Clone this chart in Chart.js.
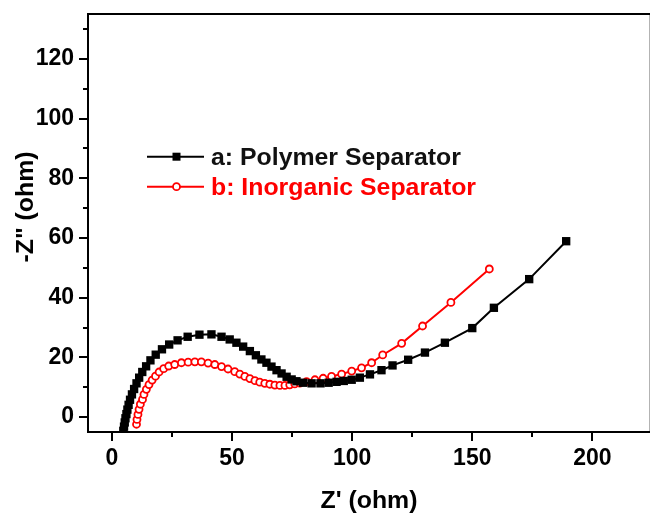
<!DOCTYPE html>
<html>
<head>
<meta charset="utf-8">
<script src="https://cdn.jsdelivr.net/npm/chart.js@4.4.0/dist/chart.umd.min.js"></script>
<style>
  html, body { margin: 0; padding: 0; background: #fff; overflow: hidden; }
  canvas { display: block; }
</style>
</head>
<body>
<canvas id="nyquist" width="650" height="513"></canvas>
<script>
// Nyquist plot data: Z' (ohm) vs -Z'' (ohm)
const polymerZre = [4.7, 5.0, 5.3, 5.6, 6.0, 6.4, 6.9, 7.5, 8.3, 9.2, 10.2, 11.3, 12.6, 14.2, 16.0, 18.2, 20.8, 23.8, 27.3, 31.5,
  36.4, 41.4, 45.6, 49.0, 51.8, 54.6, 57.4, 59.9, 62.2, 64.3, 66.4, 68.5, 70.6, 72.7, 74.8, 76.8, 79.6, 83.1, 86.8, 90.2,
  93.5, 96.5, 99.8, 103.2, 107.4, 112.2, 116.8, 123.3, 130.3, 138.6, 150.0, 159.0, 173.7, 189.1];
const polymerZim = [-4.6, -3.2, -1.8, -0.4, 1.0, 2.5, 4.1, 5.8, 7.6, 9.4, 11.3, 13.2, 15.1, 17.0, 19.0, 20.9, 22.7, 24.3, 25.7, 26.9,
  27.6, 27.7, 26.9, 26.0, 24.9, 23.6, 22.1, 20.7, 19.3, 18.2, 16.9, 15.7, 14.6, 13.5, 12.6, 12.0, 11.5, 11.3, 11.3, 11.5,
  11.8, 12.1, 12.5, 13.2, 14.3, 15.7, 17.3, 19.2, 21.6, 24.9, 29.8, 36.6, 46.2, 58.9];

const inorganicZre = [10.2, 10.4, 10.8, 11.25, 11.8, 12.7, 13.3, 14.3, 15.4, 16.7, 18.1, 19.6, 21.5, 23.6, 26.1, 28.9, 31.7, 34.5, 37.2, 40.0,
  42.8, 45.6, 48.3, 51.1, 53.2, 55.3, 57.4, 59.5, 61.5, 63.6, 65.7, 67.8, 69.9, 72.0, 74.0, 76.1, 78.2, 81.0, 84.5, 87.9,
  91.4, 95.6, 99.8, 103.9, 108.1, 112.7, 120.6, 129.3, 141.1, 157.1];
const inorganicZim = [-2.4, -0.8, 0.9, 2.6, 4.3, 5.9, 7.6, 9.3, 10.9, 12.4, 13.7, 15.1, 16.2, 17.1, 17.6, 18.2, 18.4, 18.5, 18.5, 18.1,
  17.6, 16.9, 16.1, 15.2, 14.4, 13.6, 12.9, 12.2, 11.7, 11.3, 11.0, 10.7, 10.6, 10.6, 10.8, 11.1, 11.4, 11.9, 12.5, 13.0,
  13.6, 14.4, 15.4, 16.5, 18.2, 20.8, 24.7, 30.5, 38.4, 49.6];

const seriesLabels = ['a: Polymer Separator', 'b: Inorganic Separator'];
const xTickValues = [0, 50, 100, 150, 200];
const yTickValues = [0, 20, 40, 60, 80, 100, 120];
const xTitle = "Z' (ohm)";
const yTitle = '-Z" (ohm)';

const FONT = '"Liberation Sans", Arial, sans-serif';

const toPoints = (xs, ys) => xs.map((x, i) => ({ x: x, y: ys[i] }));

// draws the frame, outward ticks (major + minor), axis titles and the inset legend
const decorations = {
  id: 'decorations',
  afterDraw(chart) {
    const { ctx, chartArea: area, scales: { x, y } } = chart;
    ctx.save();
    ctx.strokeStyle = '#000';
    ctx.lineWidth = 2;
    // right side of the frame sits just past the picture edge, as in the original crop
    ctx.strokeRect(area.left, area.top, area.right + 0.7 - area.left, area.bottom - area.top);

    ctx.beginPath();
    for (let v = 0; v <= 130; v += 10) {
      const py = Math.round(y.getPixelForValue(v));
      const len = v % 20 === 0 ? 9 : 5;
      ctx.moveTo(area.left - len, py);
      ctx.lineTo(area.left, py);
    }
    for (let v = 0; v <= 224; v += 25) {
      const px = Math.round(x.getPixelForValue(v));
      const len = v % 50 === 0 ? 9 : 5;
      ctx.moveTo(px, area.bottom);
      ctx.lineTo(px, area.bottom + len);
    }
    ctx.stroke();

    // axis titles
    ctx.fillStyle = '#000';
    ctx.font = 'bold 23px ' + FONT;
    ctx.textAlign = 'center';
    ctx.textBaseline = 'alphabetic';
    ctx.save();
    ctx.translate((area.left + area.right) / 2, 508);
    ctx.scale(1.08, 1);
    ctx.fillText(xTitle, 0, 0);
    ctx.restore();

    ctx.save();
    ctx.translate(33, 207);
    ctx.rotate(-Math.PI / 2);
    ctx.scale(1.08, 1);
    ctx.fillText(yTitle, 0, 0);
    ctx.restore();

    // legend
    const rows = [156.7, 186.7];
    chart.data.datasets.forEach((ds, i) => {
      const ly = rows[i];
      ctx.strokeStyle = ds.borderColor;
      ctx.lineWidth = 2;
      ctx.beginPath();
      ctx.moveTo(147, ly);
      ctx.lineTo(204, ly);
      ctx.stroke();
      if (ds.pointStyle === 'rect') {
        ctx.fillStyle = ds.pointBackgroundColor;
        ctx.fillRect(176.5 - 4, ly - 4, 8, 8);
      } else {
        ctx.beginPath();
        ctx.arc(176.5, ly, ds.pointRadius, 0, Math.PI * 2);
        ctx.fillStyle = ds.pointBackgroundColor;
        ctx.fill();
        ctx.lineWidth = ds.pointBorderWidth;
        ctx.strokeStyle = ds.pointBorderColor;
        ctx.stroke();
      }
      ctx.save();
      ctx.translate(211, ly + 8.3);
      ctx.scale(1.08, 1);
      ctx.font = 'bold 23px ' + FONT;
      ctx.textAlign = 'left';
      ctx.fillStyle = ds.borderColor === '#000000' ? '#111' : ds.borderColor;
      ctx.fillText(ds.label, 0, 0);
      ctx.restore();
    });
    ctx.restore();
  }
};

const ctx = document.getElementById('nyquist').getContext('2d');

new Chart(ctx, {
  type: 'line',
  data: {
    datasets: [
      {
        label: seriesLabels[0],
        data: toPoints(polymerZre, polymerZim),
        borderColor: '#000000',
        borderWidth: 2,
        pointStyle: 'rect',
        pointRadius: 5.9,
        pointBackgroundColor: '#000000',
        pointBorderWidth: 0,
        tension: 0
      },
      {
        label: seriesLabels[1],
        data: toPoints(inorganicZre, inorganicZim),
        borderColor: '#ff0000',
        borderWidth: 2,
        pointStyle: 'circle',
        pointRadius: 3.5,
        pointBackgroundColor: '#ffffff',
        pointBorderColor: '#ff0000',
        pointBorderWidth: 1.8,
        tension: 0
      }
    ]
  },
  options: {
    responsive: false,
    animation: false,
    layout: { autoPadding: false, padding: { top: 14, right: 0, bottom: 0, left: 0 } },
    scales: {
      x: {
        type: 'linear',
        min: -10,
        max: 224,
        afterBuildTicks: (scale) => { scale.ticks = xTickValues.map(v => ({ value: v })); },
        afterFit: (scale) => {
          scale.height = 81;
          scale.paddingLeft = 0;
          scale.paddingRight = 0;
        },
        grid: { display: false, drawTicks: false },
        border: { display: false },
        ticks: {
          padding: 13,
          color: '#000',
          font: { family: FONT, size: 23, weight: 'bold' }
        }
      },
      y: {
        type: 'linear',
        min: -5,
        max: 135,
        afterBuildTicks: (scale) => { scale.ticks = yTickValues.map(v => ({ value: v })); },
        afterFit: (scale) => {
          scale.width = 88;
          scale.paddingTop = 0;
          scale.paddingBottom = 0;
        },
        grid: { display: false, drawTicks: false },
        border: { display: false },
        ticks: {
          padding: 14,
          color: '#000',
          font: { family: FONT, size: 23, weight: 'bold' }
        }
      }
    },
    plugins: {
      legend: { display: false },
      tooltip: { enabled: false }
    }
  },
  plugins: [decorations]
});
</script>
</body>
</html>
